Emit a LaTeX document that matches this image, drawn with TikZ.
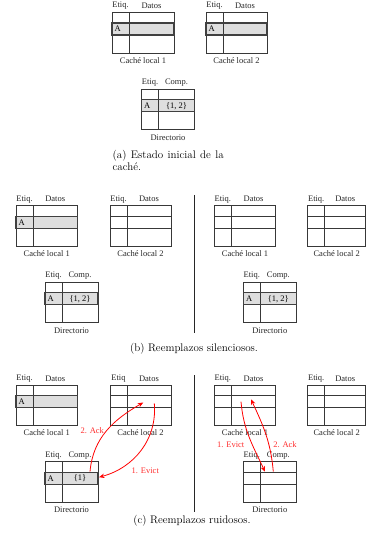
\documentclass[tikz,border=0pt]{standalone}
\usepackage{fontspec}
\newfontfamily\timesf{Liberation Serif}
\usetikzlibrary{arrows.meta}

\definecolor{msgred}{RGB}{255,45,45}

\tikzset{
  gridline/.style={draw=black!78, line width=0.9pt},
  rowfill/.style={fill=black!13},
  rowedge/.style={draw=black!75, line width=1.1pt},
  hdr/.style={font=\timesf\fontsize{8.5}{9}\selectfont, inner sep=0pt, text=black!85},
  cell/.style={font=\timesf\fontsize{8.5}{9}\selectfont, inner sep=0pt},
  caption/.style={font=\fontsize{11}{12.5}\selectfont, inner sep=0pt},
  msg/.style={draw=red, line width=0.8pt, -{Stealth[length=5.5pt,width=4.5pt]}},
  msglabel/.style={font=\timesf\fontsize{8.5}{9}\selectfont, text=msgred, inner sep=0pt},
  divider/.style={draw=black!85, line width=0.8pt}
}

% \tabla{name}{x,y}{width}{header 1}{header 2}{caption}{shaded 1/0}{tag}{data}
\newcommand\tabla[9]{%
  \begin{scope}[shift={(#2)}]
    \coordinate (#1) at (0,0);
    \ifnum#7=1\relax
      \fill[rowfill] (0,10.5) rectangle (#3,22.5);
    \fi
    \draw[gridline] (0,0) rectangle (#3,40.5);
    \draw[gridline] (0,10.5) -- (#3,10.5) (0,22.5) -- (#3,22.5) (17,0) -- (17,40.5);
    \ifnum#7=1\relax
      \draw[rowedge] (0,10.5) rectangle (#3,22.5);
      \node[cell, anchor=west] (#1-tag) at (2.5,16.5) {#8};
      \node[cell] (#1-data) at ({(17+#3)/2},16.5) {#9};
    \fi
    \node[hdr] (#1-h1) at (8.5,-6.5) {#4};
    \node[hdr] (#1-h2) at ({(17+#3)/2},-6.5) {#5};
    \node[hdr] (#1-cap) at ({#3/2},48) {#6};
  \end{scope}}

\begin{document}
\begin{tikzpicture}[x=1pt, y=-1pt]
  \useasboundingbox (0,0) rectangle (366,534);

  % (a) initial state
  \tabla{aC1}{112,12.5}{62}{Etiq.}{Datos}{Caché local 1}{1}{A}{}
  \tabla{aC2}{206,12.5}{61}{Etiq.}{Datos}{Caché local 2}{1}{A}{}
  \tabla{aD}{141.5,89.3}{53}{Etiq.}{Comp.}{Directorio}{1}{A}{\{1, 2\}}
  \node[caption, anchor=north west, text width=111pt, align=justify] (capA) at (112.5,150)
    {(a) Estado inicial de la caché.};

  % (b) silent replacements
  \tabla{bC1}{16,205.7}{61.5}{Etiq.}{Datos}{Caché local 1}{1}{A}{}
  \tabla{bC2}{110,205.7}{61}{Etiq.}{Datos}{Caché local 2}{0}{}{}
  \tabla{bD}{45,282.3}{53}{Etiq.}{Comp.}{Directorio}{1}{A}{\{1, 2\}}
  \draw[divider] (194.3,195) -- (194.3,333);
  \tabla{bC1r}{214.3,205.7}{61.5}{Etiq.}{Datos}{Caché local 1}{0}{}{}
  \tabla{bC2r}{307.7,205.7}{58}{Etiq.}{Datos}{Caché local 2}{0}{}{}
  \tabla{bDr}{243.3,282.3}{53}{Etiq.}{Comp.}{Directorio}{1}{A}{\{1, 2\}}
  \node[caption] (capB) at (194,349) {(b) Reemplazos silenciosos.};

  % (c) noisy replacements
  \tabla{cC1}{16,385}{61.5}{Etiq.}{Datos}{Caché local 1}{1}{A}{}
  \tabla{cC2}{110,385}{61}{Etiq}{Datos}{Caché local 2}{0}{}{}
  \tabla{cD}{45,461.7}{53}{Etiq.}{Comp.}{Directorio}{1}{A}{\{1\}}
  \draw[divider] (194.3,375) -- (194.3,512);
  \tabla{cC1r}{214.3,385}{61.5}{Etiq.}{Datos}{Caché local 1}{0}{}{}
  \tabla{cC2r}{307.7,385}{58}{Etiq.}{Datos}{Caché local 2}{0}{}{}
  \tabla{cDr}{243.3,461.7}{53}{Etiq.}{Comp.}{Directorio}{0}{}{}
  \node[caption] (capC) at (192,521) {(c) Reemplazos ruidosos.};

  % message end points
  \coordinate (evL-s) at ([shift={(44.3,18.3)}]cC2);
  \coordinate (evL-e) at ([shift={(54,15.5)}]cD);
  \coordinate (ackL-s) at ([shift={(45,10)}]cD);
  \coordinate (ackL-e) at ([shift={(33.3,17.5)}]cC2);
  \coordinate (evR-s) at ([shift={(26.7,16.7)}]cC1r);
  \coordinate (evR-e) at ([shift={(21.7,10)}]cDr);
  \coordinate (ackR-s) at ([shift={(30,10)}]cDr);
  \coordinate (ackR-e) at ([shift={(36.7,14.3)}]cC1r);

  % messages
  \draw[msg] (evL-s) to[out=-85, in=15] (evL-e);
  \draw[msg] (ackL-s) to[out=85, in=-150] (ackL-e);
  \draw[msg] (evR-s) to[out=-85, in=115] (evR-e);
  \draw[msg] (ackR-s) to[out=95, in=-65] (ackR-e);

  \node[msglabel] (lAckL) at (92.3,431) {2. Ack};
  \node[msglabel] (lEvL) at (145.3,470.7) {1. Evict};
  \node[msglabel] (lEvR) at (230.7,445) {1. Evict};
  \node[msglabel] (lAckR) at (285,445) {2. Ack};
\end{tikzpicture}
\end{document}
